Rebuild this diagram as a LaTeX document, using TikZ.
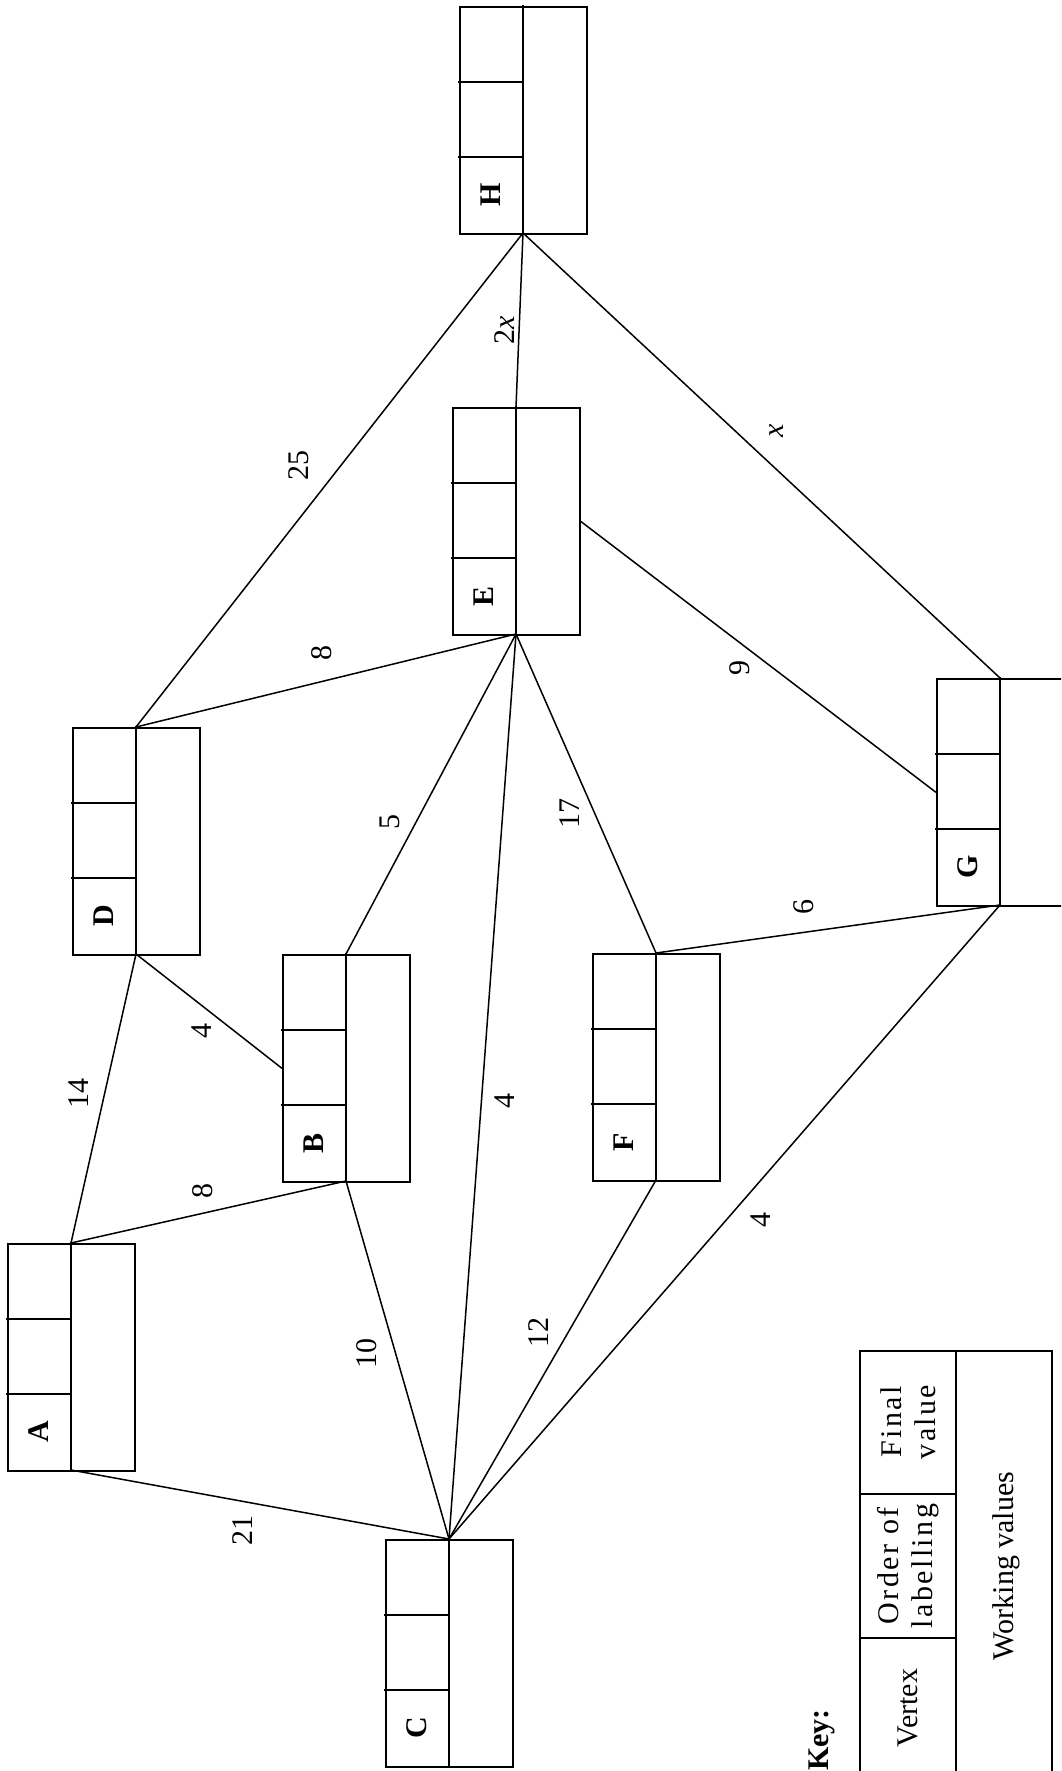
\documentclass[tikz,border=0pt]{standalone}
\usepackage{fontspec}
\setmainfont{Liberation Serif}
\tikzset{
  boxline/.style={line width=1.7pt, line cap=rect},
  edge/.style={line width=1.5pt},
  vlabel/.style={rotate=90, font=\fontsize{30}{34}\selectfont\bfseries, inner sep=0pt},
  wlabel/.style={rotate=90, font=\fontsize{30}{34}\selectfont, inner sep=0pt},
  keytext/.style={rotate=90, font=\fontsize{30}{34}\selectfont, align=center, inner sep=0pt},
  keyspaced/.style={rotate=90, font=\fontsize{30}{34}\selectfont\addfontfeature{LetterSpace=8}, align=center, inner sep=0pt},
}
\newcommand\dijbox[3]{%
  \node[draw, line width=1.7pt, minimum width=127pt, minimum height=227pt, inner sep=0pt, anchor=north west] (#1) at (#2,#3) {};
  \coordinate (#1t) at (#2+64,#3);
  \coordinate (#1b) at (#2+64,#3+227);
  \draw[boxline] (#1t) -- (#1b);
  \draw[boxline] (#2,#3+76) -- (#2+64,#3+76);
  \draw[boxline] (#2,#3+151) -- (#2+64,#3+151);
  \node[vlabel] (#1lab) at (#2+32,#3+189) {#1};
}
\begin{document}
\begin{tikzpicture}[x=1pt, y=-1pt]
\useasboundingbox (0,0) rectangle (1061,1771);
\clip (0,0) rectangle (1061,1771);
\fill[white] (0,0) rectangle (1061,1771);
% boxes
\dijbox{A}{7}{1243}
\dijbox{B}{282}{954}
\dijbox{C}{385}{1539}
\dijbox{D}{72}{727}
\dijbox{E}{452}{407}
\dijbox{F}{592}{953}
\dijbox{G}{936}{678}
\dijbox{H}{459}{6}
% edges
\draw[edge] (At) -- (Db);
\draw[edge] (At) -- (Bb);
\draw[edge] (Ab) -- (Ct);
\draw[edge] (Db) -- (B.west);
\draw[edge] (Dt) -- (Eb);
\draw[edge] (Dt) -- (Hb);
\draw[edge] (Bt) -- (Eb);
\draw[edge] (Bb) -- (Ct);
\draw[edge] (Eb) -- (Ct);
\draw[edge] (Eb) -- (Ft);
\draw[edge] (Fb) -- (Ct);
\draw[edge] (Ft) -- (Gb);
\draw[edge] (Gb) -- (Ct);
\draw[edge] (E.east) -- (G.west);
\draw[edge] (Gt) -- (Hb);
\draw[edge] (Et) -- (Hb);
% weights
\node[wlabel] (w1) at (79,1093) {14};
\node[wlabel] (w2) at (202,1031) {4};
\node[wlabel] (w3) at (203,1191) {8};
\node[wlabel] (w4) at (243,1530) {21};
\node[wlabel] (w5) at (367,1353) {10};
\node[wlabel] (w6) at (539,1332) {12};
\node[wlabel] (w7) at (505,1101) {4};
\node[wlabel] (w8) at (761,1220) {4};
\node[wlabel] (w9) at (390,822) {5};
\node[wlabel] (w10) at (570,813) {17};
\node[wlabel] (w11) at (804,907) {6};
\node[wlabel] (w12) at (322,653) {8};
\node[wlabel] (w13) at (740,668) {9};
\node[wlabel] (w14) at (299,465) {25};
\node[wlabel] (w15) at (505,330) {2\textit{x}};
\node[wlabel] (w16) at (777,431) {\textit{x}};
% key
\draw[boxline] (860,1351) rectangle (1052,1781);
\draw[boxline] (956,1351) -- (956,1781);
\draw[boxline] (860,1494) -- (956,1494);
\draw[boxline] (860,1638) -- (956,1638);
\node[keyspaced] (k1) at (908,1422) {Final\\value};
\node[keyspaced] (k2) at (908,1566) {Order of\\labelling};
\node[keytext] (k3) at (908,1708) {Vertex};
\node[keytext] (k4) at (1006,1566) {Working values};
\node[rotate=90, font=\fontsize{30}{34}\selectfont\bfseries, inner sep=0pt] (key) at (822,1740) {Key:};
\end{tikzpicture}
\end{document}
